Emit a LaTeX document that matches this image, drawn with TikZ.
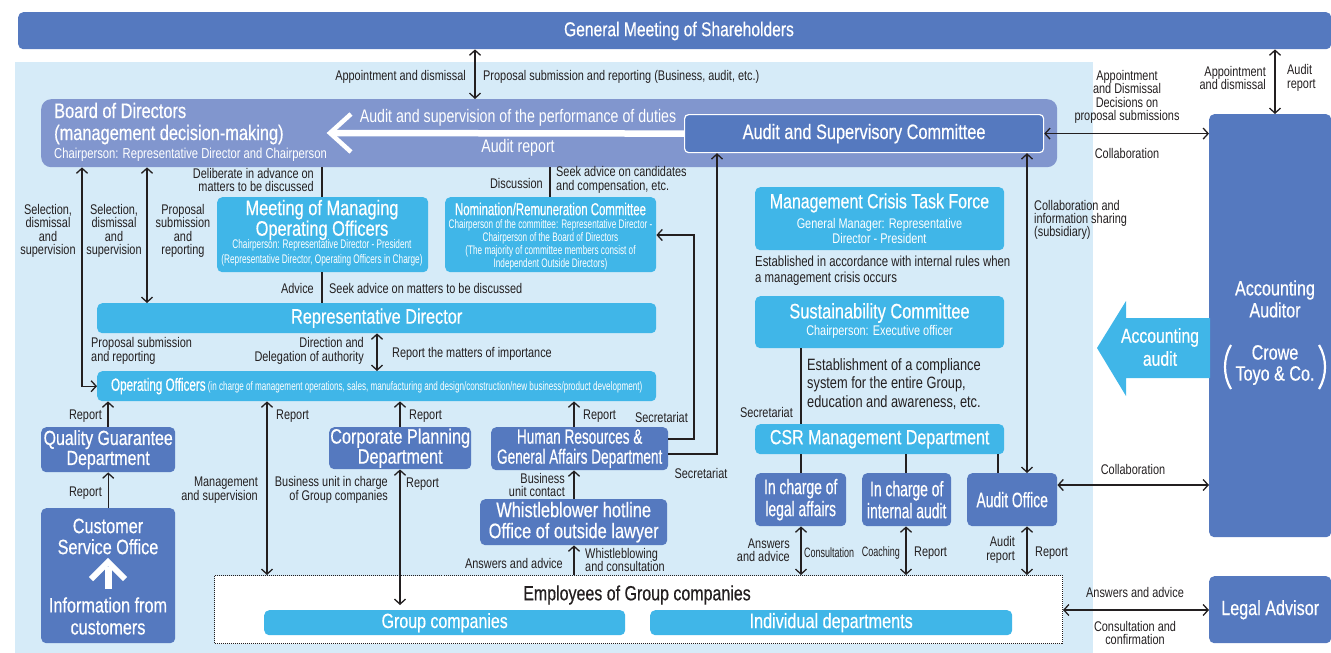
\documentclass[tikz,border=0pt]{standalone}
\usepackage{fontspec}
\setmainfont{Liberation Sans}[FakeStretch=0.78]
\newfontfamily\cf{Liberation Sans}[FakeStretch=0.66]
\newfontfamily\tf{Liberation Sans}[FakeStretch=0.78,FakeBold=0.45]
\newfontfamily\tcf{Liberation Sans}[FakeStretch=0.66,FakeBold=0.45]
\usetikzlibrary{arrows.meta,calc}
\definecolor{dblue}{HTML}{5579BF}
\definecolor{lblue}{HTML}{40B6E8}
\definecolor{bcol}{HTML}{8196CE}
\definecolor{bgcol}{HTML}{D6EBF8}
\definecolor{txt}{HTML}{231F20}
\newcommand{\fsz}[2]{\fontsize{#1}{#2}\selectfont}
\tikzset{
 box/.style={inner sep=0pt, anchor=north west, text=white, align=center, rounded corners=5pt},
 db/.style={box, fill=dblue},
 lb/.style={box, fill=lblue},
 wt/.style={inner sep=0pt, text=white, align=center},
 lab/.style={inner sep=0pt, text=txt, font=\fsz{14}{13.3}},
 con/.style={draw=txt, line width=1.3pt},
 arr/.style={con, -{Straight Barb[length=5pt,width=11pt]}},
 darr/.style={con, {Straight Barb[length=5pt,width=11pt]}-{Straight Barb[length=5pt,width=11pt]}},
}
\begin{document}
\begin{tikzpicture}[x=1pt,y=-1pt]
\useasboundingbox (0,0) rectangle (1331,653);
% background
\fill[bgcol] (15,62) rectangle (1093,653);
% x and y helper coordinates
\foreach \xx in {82,108,147,267,322,377,400,475,550,574,801,906,998,1027,1275}{\coordinate (c\xx) at (\xx,0);}
\coordinate (y485) at (0,485);
\coordinate (y610) at (0,610);
\coordinate (h1) at (694,439);
\coordinate (h2) at (694,235);
\coordinate (s1) at (717,454);
\coordinate (wa) at (333,133);

% top bar
\node[db, minimum width=1313pt, minimum height=37pt] (gm) at (18,12) {};
\node[wt, font=\tf\fsz{20}{20}] (gmt) at (679,31) {General Meeting of Shareholders};

% board
\node[box, fill=bcol, minimum width=1016pt, minimum height=68pt, rounded corners=10pt] (board) at (41,99) {};
\node[wt, anchor=base west, font=\tf\fsz{21}{22}] (bt1) at (54,118) {Board of Directors};
\node[wt, anchor=base west, font=\tf\fsz{21}{22}] (bt2) at (54,140) {(management decision-making)};
\node[wt, anchor=base west, font=\fsz{14.4}{15}] (bt3) at (54,158) {Chairperson: Representative Director and Chairperson};

% audit and supervisory committee
\node[db, draw=white, line width=1.2pt, minimum width=359pt, minimum height=38pt, rounded corners=4pt, font=\tf\fsz{20.9}{21}] (asc) at (684,114) {Audit and Supervisory Committee};

% white arrow in board
\draw[white, line width=6.5pt] (asc.west) -- (wa);
\draw[white, line width=4.5pt, line join=miter] (351,114) -- (330,133) -- (351,152);
\node[wt, font=\fsz{18.2}{18}] (au1) at (518,118) {Audit and supervision of the performance of duties};
\node[wt, font=\fsz{18.2}{18}] (au2) at (518,148) {Audit report};

% accounting auditor
\node[db, minimum width=122pt, minimum height=423pt] (aa) at (1209,114) {};
\node[wt, font=\tf\fsz{20.7}{22}] (aat) at (1275,299) {Accounting\\Auditor};
\node[wt, font=\tf\fsz{20.7}{21}] (aac) at (1275,365) {Crowe\\Toyo \& Co.};
\draw[white, line width=2.2pt] (1231,345) .. controls (1223,358) and (1223,376) .. (1231,389);
\draw[white, line width=2.2pt] (1319,345) .. controls (1327,358) and (1327,376) .. (1319,389);

% accounting audit arrow
\fill[lblue] (1097,348) -- (1126,301) -- (1126,318) -- (1210,318) -- (1210,378) -- (1126,378) -- (1126,396) -- cycle;
\node[wt, font=\tf\fsz{20.2}{23}] (aud) at (1160,347) {Accounting\\audit};

% legal advisor
\node[db, minimum width=122pt, minimum height=67pt, font=\tf\fsz{20.7}{21}] (la) at (1209,576) {Legal Advisor};

% meeting of managing operating officers
\node[lb, minimum width=211pt, minimum height=75pt] (moo) at (217,197) {};
\node[wt, font=\tf\fsz{21}{18}] (moot) at (322,220) {Meeting of Managing\\Operating Officers};
\node[wt, font=\cf\fsz{12.5}{15}] (moos) at (322,252.5) {Chairperson: Representative Director - President\\(Representative Director, Operating Officers in Charge)};

% nomination committee
\node[lb, minimum width=211pt, minimum height=75pt] (nrc) at (445,197) {};
\node[wt, font=\tcf\fsz{17.3}{17}] (nrct) at (550.5,209) {Nomination/Remuneration Committee};
\node[wt, font=\cf\fsz{12.4}{13}] (nrcs) at (550.5,244.5) {Chairperson of the committee: Representative Director -\\Chairperson of the Board of Directors\\(The majority of committee members consist of\\Independent Outside Directors)};

% representative director and operating officers
\node[lb, minimum width=559pt, minimum height=30pt, font=\tf\fsz{20.9}{21}] (rd) at (97,303) {Representative Director};
\node[lb, minimum width=559pt, minimum height=30pt] (oo) at (97,371) {{\tcf\fsz{17.7}{18}Operating Officers} {\cf\fsz{12.3}{13}(in charge of management operations, sales, manufacturing and design/construction/new business/product development)}};

% left column
\node[db, minimum width=134pt, minimum height=45pt, font=\tf\fsz{20.4}{20}] (qg) at (41,427) {Quality Guarantee\\Department};
\node[db, minimum width=134pt, minimum height=135pt] (cso) at (41,508) {};
\node[wt, font=\tf\fsz{20.8}{21}] (csot) at (108,536.5) {Customer\\Service Office};
\node[wt, font=\tf\fsz{20.8}{22}] (csob) at (108,616) {Information from\\customers};
\draw[white, line width=7pt] (108,589) -- (108,567);
\draw[white, line width=6pt, line join=miter] (91,579) -- (108,562) -- (125,579);

% middle departments
\node[db, minimum width=142pt, minimum height=42pt, font=\tf\fsz{20.8}{20}] (cp) at (329,427) {Corporate Planning\\Department};
\node[db, minimum width=177pt, minimum height=43pt, font=\tcf\fsz{20.6}{20}] (hr) at (491,427) {Human Resources \&\\General Affairs Department};
\node[db, minimum width=187pt, minimum height=46pt, font=\tf\fsz{21}{21}] (wb) at (480,499) {Whistleblower hotline\\Office of outside lawyer};

% employees
\node[box, fill=white, draw=txt, densely dotted, line width=1pt, rounded corners=0pt, minimum width=848pt, minimum height=68pt] (emp) at (214,575) {};
\node[inner sep=0pt, text=txt, font=\tf\fsz{20.5}{21}] (empt) at (637,595) {Employees of Group companies};
\node[lb, minimum width=361pt, minimum height=25pt, font=\tf\fsz{20.5}{21}] (gc) at (264,610) {Group companies};
\node[lb, minimum width=362pt, minimum height=25pt, font=\tf\fsz{20.8}{21}] (idp) at (650,610) {Individual departments};

% right column
\node[lb, minimum width=249pt, minimum height=63pt] (mctf) at (755,187) {};
\node[wt, font=\tf\fsz{20.4}{21}] (mctft) at (879.5,203) {Management Crisis Task Force};
\node[wt, font=\fsz{14}{15}] (mctfs) at (879.5,230.5) {General Manager: Representative\\Director - President};
\node[lb, minimum width=249pt, minimum height=52pt] (sc) at (755,296) {};
\node[wt, font=\tf\fsz{21}{21}] (sct) at (879.5,313) {Sustainability Committee};
\node[wt, font=\fsz{14}{15}] (scs) at (879.5,332) {Chairperson: Executive officer};
\node[lb, minimum width=249pt, minimum height=30pt, font=\tf\fsz{20.5}{21}] (csr) at (755,424) {CSR Management Department};
\node[db, minimum width=91pt, minimum height=53pt, font=\tcf\fsz{21}{22}] (leg) at (755,473) {In charge of\\legal affairs};
\node[db, minimum width=89pt, minimum height=53pt, font=\tcf\fsz{21}{22}] (ia) at (862,473) {In charge of\\internal audit};
\node[db, minimum width=90pt, minimum height=53pt, font=\tcf\fsz{21}{22}] (ao) at (967,473) {Audit Office};

% connectors
\draw[darr] (gm.south -| c475) -- (board.north -| c475);
\draw[darr] (gm.south -| c1275) -- (aa.north -| c1275);
\draw[darr] (asc.east) -- (asc.east -| aa.west);
\draw[darr] (board.south -| c82) |- (oo.west);
\draw[darr] (board.south -| c147) -- (rd.north -| c147);
\draw[con] (board.south -| c322) -- (moo.north -| c322);
\draw[con] (moo.south -| c322) -- (rd.north -| c322);
\draw[con] (board.south -| c550) -- (nrc.north -| c550);
\draw[darr] (rd.south -| c377) -- (oo.north -| c377);
\draw[arr] (qg.north -| c108) -- (oo.south -| c108);
\draw[arr] (cso.north) -- (qg.south);
\draw[darr] (oo.south -| c267) -- (emp.north -| c267);
\draw[arr] (cp.north -| c400) -- (oo.south -| c400);
\draw[darr, shorten >=5pt] (cp.south -| c400) -- (gc.north -| c400);
\draw[arr] (hr.north -| c574) -- (oo.south -| c574);
\draw[arr] (wb.north -| c574) -- (hr.south -| c574);
\draw[arr] (emp.north -| c574) -- (wb.south -| c574);
\draw[arr] (hr.east |- h1) -- (h1) -- (h2) -- (h2 -| nrc.east);
\draw[arr] (hr.east |- s1) -- (s1) -- (s1 |- asc.south);
\draw[darr] (asc.south -| c1027) -- (ao.north -| c1027);
\draw[darr] (ao.east |- y485) -- (aa.west |- y485);
\draw[con] (sc.south -| c801) -- (csr.north -| c801);
\draw[con] (csr.south -| c801) -- (leg.north -| c801);
\draw[con] (csr.south -| c906) -- (ia.north -| c906);
\draw[con] (csr.south -| c998) -- (ao.north -| c998);
\draw[darr] (leg.south -| c801) -- (emp.north -| c801);
\draw[darr] (ia.south -| c906) -- (emp.north -| c906);
\draw[darr] (ao.south -| c1027) -- (emp.north -| c1027);
\draw[darr] (emp.east |- y610) -- (la.west |- y610);

% labels
\node[lab, anchor=east] (l1) at (466,77) {Appointment and dismissal};
\node[lab, anchor=west] (l2) at (483,77) {Proposal submission and reporting (Business, audit, etc.)};
\node[lab, align=center] (l3) at (1127,97) {Appointment\\and Dismissal\\Decisions on\\proposal submissions};
\node[lab] (l4) at (1127,153) {Collaboration};
\node[lab, anchor=east, align=right] (l5) at (1266,78) {Appointment\\and dismissal};
\node[lab, anchor=west, align=left] (l6) at (1287,78) {Audit\\report};
\node[lab, align=center] (l7) at (48,231) {Selection,\\dismissal\\and\\supervision};
\node[lab, align=center] (l8) at (114,231) {Selection,\\dismissal\\and\\supervision};
\node[lab, align=center] (l9) at (183,231) {Proposal\\submission\\and\\reporting};
\node[lab, anchor=east, align=right] (l10) at (314,180) {Deliberate in advance on\\matters to be discussed};
\node[lab, anchor=east] (l11) at (543,183) {Discussion};
\node[lab, anchor=west, align=left] (l12) at (556,180) {Seek advice on candidates\\and compensation, etc.};
\node[lab, anchor=east] (l13) at (314,288) {Advice};
\node[lab, anchor=west] (l14) at (329,288) {Seek advice on matters to be discussed};
\node[lab, anchor=west, align=left] (l15) at (91,351) {Proposal submission\\and reporting};
\node[lab, anchor=east, align=right] (l16) at (364,351) {Direction and\\Delegation of authority};
\node[lab, anchor=west] (l17) at (392,354) {Report the matters of importance};
\node[lab, anchor=east] (l18) at (102,416) {Report};
\node[lab, anchor=east] (l19) at (102,493) {Report};
\node[lab, anchor=west] (l20) at (276,416) {Report};
\node[lab, anchor=east, align=right] (l21) at (258,490) {Management\\and supervision};
\node[lab, anchor=west] (l22) at (409,416) {Report};
\node[lab, anchor=east, align=right] (l23) at (388,490) {Business unit in charge\\of Group companies};
\node[lab, anchor=west] (l24) at (406,484) {Report};
\node[lab, anchor=west] (l25) at (583,416) {Report};
\node[lab, anchor=east] (l26) at (688,417) {Secretariat};
\node[lab, anchor=east, align=right] (l27) at (565,485) {Business\\unit contact};
\node[lab] (l28) at (701,473) {Secretariat};
\node[lab, anchor=east] (l29) at (563,563) {Answers and advice};
\node[lab, anchor=west, align=left] (l30) at (585,560) {Whistleblowing\\and consultation};
\node[lab, anchor=west, align=left, font=\fsz{14.6}{16}] (l31) at (755,271) {Established in accordance with internal rules when\\a management crisis occurs};
\node[lab, anchor=west, align=left] (l32) at (1034,220) {Collaboration and\\information sharing\\(subsidiary)};
\node[lab, anchor=west, align=left, font=\fsz{16.4}{18.5}] (l33) at (807,384) {Establishment of a compliance\\system for the entire Group,\\education and awareness, etc.};
\node[lab, anchor=east] (l34) at (793,412) {Secretariat};
\node[lab] (l35) at (1133,469) {Collaboration};
\node[lab, anchor=east, align=right] (l36) at (790,550) {Answers\\and advice};
\node[lab, anchor=west, font=\cf\fsz{13.6}{13}] (l37) at (804,553) {Consultation};
\node[lab, anchor=east, font=\cf\fsz{13.6}{13}] (l38) at (900,553) {Coaching};
\node[lab, anchor=west] (l39) at (914,553) {Report};
\node[lab, anchor=east, align=right] (l40) at (1015,550) {Audit\\report};
\node[lab, anchor=west] (l41) at (1035,553) {Report};
\node[lab] (l42) at (1135,592) {Answers and advice};
\node[lab, align=center] (l43) at (1135,633) {Consultation and\\confirmation};
\end{tikzpicture}
\end{document}
